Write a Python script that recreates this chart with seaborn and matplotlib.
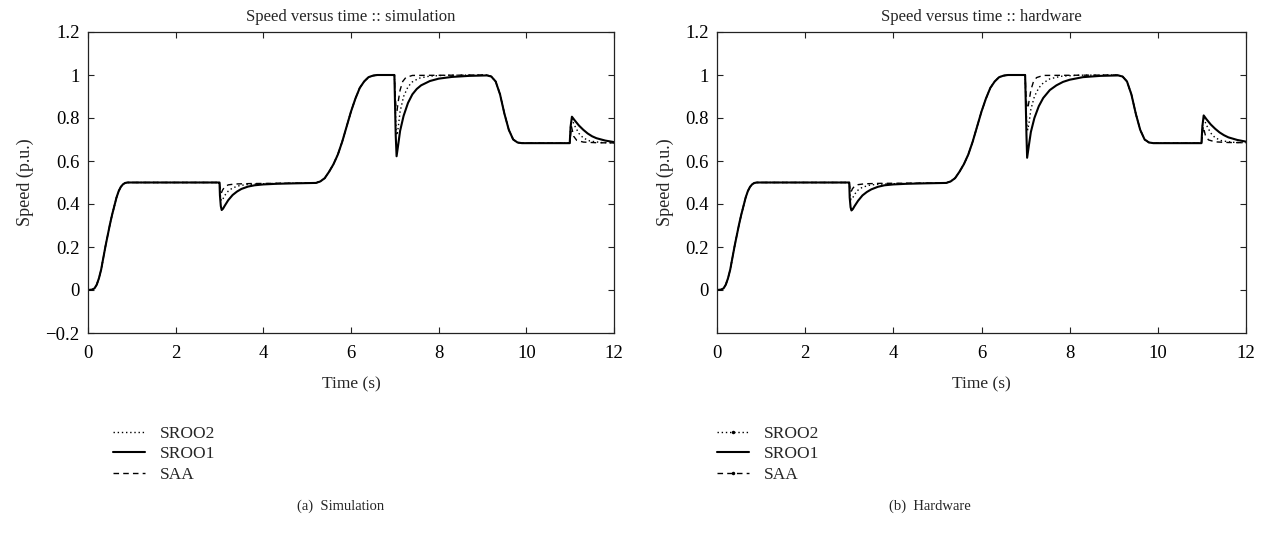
import matplotlib
matplotlib.use("Agg")
import matplotlib.pyplot as plt
from matplotlib.lines import Line2D
from matplotlib.ticker import FuncFormatter
import seaborn as sns

# ---- shared parts of the speed profile ----
t_start = [0, 0.1, 0.15, 0.2, 0.25, 0.3, 0.35, 0.4, 0.45, 0.5, 0.55, 0.6, 0.65,
           0.7, 0.75, 0.8, 0.85, 0.9, 1.0, 2.0, 2.99]
v_start = [0, 0.002, 0.008, 0.025, 0.055, 0.095, 0.15, 0.205, 0.255, 0.305, 0.35,
           0.39, 0.43, 0.46, 0.48, 0.492, 0.498, 0.5, 0.5, 0.5, 0.5]

t_rise = [5.3, 5.4, 5.5, 5.6, 5.7, 5.8, 5.9, 6.0, 6.1, 6.2, 6.3, 6.4, 6.5, 6.6, 6.99]
v_rise = [0.505, 0.52, 0.55, 0.585, 0.63, 0.69, 0.76, 0.83, 0.89, 0.94, 0.97,
          0.99, 0.997, 1.0, 1.0]

t_fall = [9.2, 9.3, 9.4, 9.5, 9.6, 9.7, 9.8, 9.9, 10.99]
v_fall = [0.993, 0.97, 0.91, 0.82, 0.745, 0.7, 0.686, 0.683, 0.683]

# ---- simulation: disturbance responses ----
sim_t_d1_sroo1 = [3.0, 3.01, 3.03, 3.05, 3.08, 3.12, 3.2, 3.3, 3.4, 3.5, 3.65, 3.8, 4.0, 4.3, 4.7, 5.2]
sim_v_d1_sroo1 = [0.5, 0.44, 0.39, 0.372, 0.378, 0.392, 0.418, 0.442, 0.458, 0.47, 0.481, 0.487, 0.491, 0.494, 0.496, 0.498]
sim_t_d1_sroo2 = [3.0, 3.02, 3.04, 3.07, 3.12, 3.2, 3.3, 3.45, 3.6, 3.9, 4.4, 5.2]
sim_v_d1_sroo2 = [0.5, 0.44, 0.415, 0.42, 0.44, 0.46, 0.475, 0.485, 0.49, 0.494, 0.496, 0.498]
sim_t_d1_saa = [3.0, 3.02, 3.04, 3.07, 3.12, 3.2, 3.35, 3.7, 5.2]
sim_v_d1_saa = [0.5, 0.46, 0.45, 0.465, 0.48, 0.489, 0.493, 0.495, 0.498]

sim_t_d2_sroo1 = [7.02, 7.04, 7.08, 7.12, 7.2, 7.3, 7.4, 7.5, 7.6, 7.8, 8.0, 8.3, 8.7, 9.1]
sim_v_d2_sroo1 = [0.72, 0.622, 0.68, 0.74, 0.81, 0.87, 0.91, 0.935, 0.952, 0.972, 0.983, 0.991, 0.996, 0.998]
sim_t_d2_sroo2 = [7.01, 7.03, 7.05, 7.08, 7.12, 7.2, 7.3, 7.4, 7.55, 7.8, 8.2, 9.1]
sim_v_d2_sroo2 = [0.85, 0.74, 0.72, 0.76, 0.83, 0.9, 0.945, 0.968, 0.985, 0.995, 0.999, 1.0]
sim_t_d2_saa = [7.01, 7.03, 7.05, 7.08, 7.12, 7.18, 7.25, 7.4, 9.1]
sim_v_d2_saa = [0.9, 0.84, 0.835, 0.88, 0.93, 0.97, 0.988, 0.998, 1.0]

sim_t_d3_sroo1 = [11.01, 11.04, 11.1, 11.2, 11.3, 11.4, 11.5, 11.6, 11.8, 12.0]
sim_v_d3_sroo1 = [0.76, 0.806, 0.79, 0.765, 0.745, 0.728, 0.715, 0.706, 0.695, 0.688]
sim_t_d3_sroo2 = [11.01, 11.04, 11.1, 11.2, 11.3, 11.45, 11.7, 12.0]
sim_v_d3_sroo2 = [0.76, 0.795, 0.765, 0.728, 0.707, 0.693, 0.686, 0.684]
sim_t_d3_saa = [11.01, 11.03, 11.08, 11.15, 11.3, 11.6, 12.0]
sim_v_d3_saa = [0.72, 0.76, 0.715, 0.696, 0.688, 0.685, 0.684]

# ---- hardware: disturbance responses ----
hw_t_d1_sroo1 = [3.0, 3.01, 3.03, 3.05, 3.08, 3.12, 3.2, 3.3, 3.4, 3.5, 3.65, 3.8, 4.0, 4.3, 4.7, 5.2]
hw_v_d1_sroo1 = [0.5, 0.43, 0.385, 0.37, 0.376, 0.39, 0.415, 0.44, 0.456, 0.468, 0.48, 0.487, 0.491, 0.494, 0.496, 0.498]
hw_t_d1_sroo2 = [3.0, 3.02, 3.04, 3.07, 3.12, 3.2, 3.3, 3.45, 3.6, 3.9, 4.4, 5.2]
hw_v_d1_sroo2 = [0.5, 0.44, 0.42, 0.425, 0.445, 0.465, 0.478, 0.487, 0.491, 0.494, 0.496, 0.498]
hw_t_d1_saa = [3.0, 3.02, 3.04, 3.07, 3.12, 3.2, 3.35, 3.7, 5.2]
hw_v_d1_saa = [0.5, 0.465, 0.455, 0.47, 0.483, 0.49, 0.494, 0.496, 0.498]

hw_t_d2_sroo1 = [7.02, 7.035, 7.08, 7.12, 7.2, 7.3, 7.4, 7.55, 7.7, 7.85, 8.0, 8.3, 8.7, 9.1]
hw_v_d2_sroo1 = [0.72, 0.615, 0.68, 0.735, 0.8, 0.855, 0.893, 0.93, 0.952, 0.968, 0.978, 0.99, 0.996, 0.998]
hw_t_d2_sroo2 = [7.01, 7.03, 7.05, 7.08, 7.12, 7.2, 7.3, 7.4, 7.55, 7.8, 8.2, 9.1]
hw_v_d2_sroo2 = [0.85, 0.76, 0.745, 0.78, 0.84, 0.9, 0.94, 0.963, 0.982, 0.994, 0.999, 1.0]
hw_t_d2_saa = [7.01, 7.03, 7.05, 7.08, 7.12, 7.18, 7.25, 7.4, 9.1]
hw_v_d2_saa = [0.9, 0.85, 0.845, 0.88, 0.93, 0.97, 0.988, 0.998, 1.0]

hw_t_d3_sroo1 = [11.01, 11.04, 11.1, 11.2, 11.3, 11.4, 11.5, 11.6, 11.8, 12.0]
hw_v_d3_sroo1 = [0.76, 0.812, 0.795, 0.77, 0.75, 0.733, 0.72, 0.71, 0.698, 0.69]
hw_t_d3_sroo2 = [11.01, 11.04, 11.1, 11.2, 11.3, 11.45, 11.7, 12.0]
hw_v_d3_sroo2 = [0.76, 0.8, 0.768, 0.73, 0.708, 0.694, 0.687, 0.685]
hw_t_d3_saa = [11.01, 11.03, 11.08, 11.15, 11.3, 11.6, 12.0]
hw_v_d3_saa = [0.72, 0.76, 0.718, 0.698, 0.689, 0.686, 0.685]

series_names = ["SROO2", "SROO1", "SAA"]
x_ticks = [0, 2, 4, 6, 8, 10, 12]


def build(d1, d2, d3):
    t = t_start + d1[0] + t_rise + d2[0] + t_fall + d3[0]
    v = v_start + d1[1] + v_rise + d2[1] + v_fall + d3[1]
    return t, v


sim = {
    "SROO2": build((sim_t_d1_sroo2, sim_v_d1_sroo2), (sim_t_d2_sroo2, sim_v_d2_sroo2), (sim_t_d3_sroo2, sim_v_d3_sroo2)),
    "SROO1": build((sim_t_d1_sroo1, sim_v_d1_sroo1), (sim_t_d2_sroo1, sim_v_d2_sroo1), (sim_t_d3_sroo1, sim_v_d3_sroo1)),
    "SAA": build((sim_t_d1_saa, sim_v_d1_saa), (sim_t_d2_saa, sim_v_d2_saa), (sim_t_d3_saa, sim_v_d3_saa)),
}
hw = {
    "SROO2": build((hw_t_d1_sroo2, hw_v_d1_sroo2), (hw_t_d2_sroo2, hw_v_d2_sroo2), (hw_t_d3_sroo2, hw_v_d3_sroo2)),
    "SROO1": build((hw_t_d1_sroo1, hw_v_d1_sroo1), (hw_t_d2_sroo1, hw_v_d2_sroo1), (hw_t_d3_sroo1, hw_v_d3_sroo1)),
    "SAA": build((hw_t_d1_saa, hw_v_d1_saa), (hw_t_d2_saa, hw_v_d2_saa), (hw_t_d3_saa, hw_v_d3_saa)),
}

styles = {"SROO2": (0, (1, 2)), "SROO1": "-", "SAA": (0, (4, 3))}
widths = {"SROO2": 1.0, "SROO1": 1.5, "SAA": 1.0}

sns.set_style("ticks")
plt.rcParams["font.family"] = ["Liberation Serif", "DejaVu Serif"]
plt.rcParams["axes.linewidth"] = 0.9
plt.rcParams["axes.edgecolor"] = "#222222"

fig = plt.figure(figsize=(12.62, 5.37), dpi=100)
ax1 = fig.add_axes([88 / 1262, 1 - 333 / 537, 526 / 1262, 301 / 537])
ax2 = fig.add_axes([717 / 1262, 1 - 333 / 537, 529 / 1262, 301 / 537])

panels = [(ax1, sim, "Speed versus time :: simulation", [-0.2, 0, 0.2, 0.4, 0.6, 0.8, 1, 1.2]),
          (ax2, hw, "Speed versus time :: hardware", [0, 0.2, 0.4, 0.6, 0.8, 1, 1.2])]

for ax, data, title, yt in panels:
    for name in ["SROO2", "SAA", "SROO1"]:
        t, v = data[name]
        sns.lineplot(x=t, y=v, ax=ax, color="black", linestyle=styles[name],
                     linewidth=widths[name], estimator=None, sort=False)
    ax.set_xlim(0, 12)
    ax.set_ylim(-0.2, 1.2)
    ax.set_xticks(x_ticks)
    ax.set_yticks(yt)
    ax.yaxis.set_major_formatter(FuncFormatter(lambda y, p: ("%g" % y).replace("-", "\u2212")))
    ax.tick_params(direction="in", length=4, width=0.8, top=True, right=True,
                   labelsize=13.5, colors="#222222", labelcolor="black")
    ax.tick_params(axis="x", pad=9)
    ax.tick_params(axis="y", pad=6)
    ax.set_title(title, fontsize=12, pad=8)
    ax.set_xlabel("Time (s)", fontsize=12.5, labelpad=10)
    ax.set_ylabel("Speed (p.u.)", fontsize=13, labelpad=8)

# legends below each panel
h_sim = [Line2D([], [], color="black", lw=widths[n], linestyle=styles[n]) for n in series_names]
h_hw = [Line2D([], [], color="black", lw=widths[n], linestyle=styles[n],
               marker="." if n != "SROO1" else None, markersize=3) for n in series_names]
fig.legend(h_sim, series_names, loc="upper left", bbox_to_anchor=(97 / 1262, 1 - 410 / 537),
           frameon=False, fontsize=12.5, handlelength=1.85, handletextpad=0.85, labelspacing=0.25)
fig.legend(h_hw, series_names, loc="upper left", bbox_to_anchor=(701 / 1262, 1 - 410 / 537),
           frameon=False, fontsize=12.5, handlelength=1.85, handletextpad=0.85, labelspacing=0.25)

fig.text(341 / 1262, 1 - 506 / 537, "(a)  Simulation", ha="center", va="center", fontsize=10.5)
fig.text(930 / 1262, 1 - 506 / 537, "(b)  Hardware", ha="center", va="center", fontsize=10.5)

fig.savefig("out.png", dpi=100)
